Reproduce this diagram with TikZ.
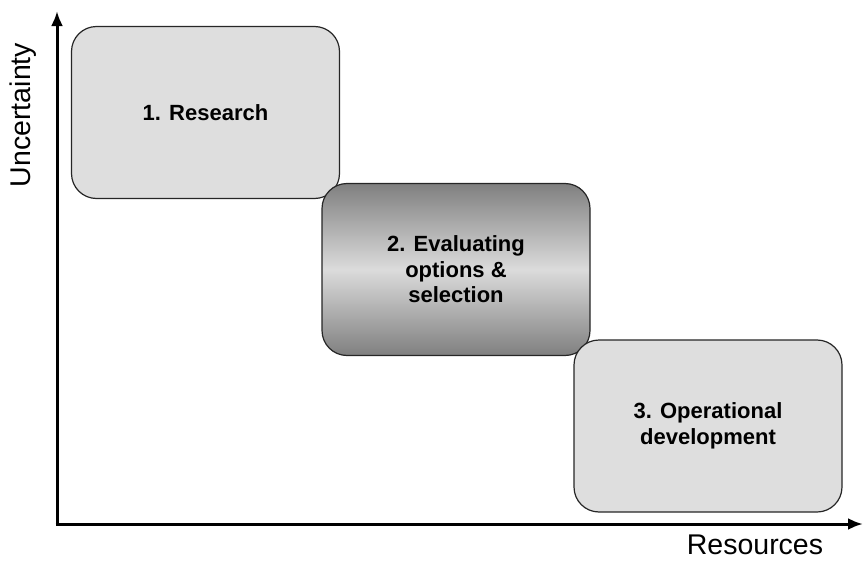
\documentclass[tikz,border=0pt]{standalone}
\usepackage{fontspec}
\setmainfont{Liberation Sans}
\usetikzlibrary{arrows.meta}
\begin{document}
\begin{tikzpicture}[x=1pt, y=-1pt,
    phase/.style={draw=black!85, line width=1.2pt, rounded corners=25pt, fill=black!13,
      minimum width=268pt, minimum height=172pt, align=center,
      font=\bfseries\fontsize{22}{25.5}\selectfont, inner sep=0pt},
    axis/.style={line width=3pt, -{Latex[length=15pt, width=12pt]}},
    axislabel/.style={font=\fontsize{28.5}{32}\selectfont, inner sep=0pt}]
    \useasboundingbox (0,0) rectangle (863,562);
    \coordinate (origin) at (57,524);
    \coordinate (ytip) at (57,11);
    \coordinate (xtip) at (863,524);
    \draw[axis] ([yshift=1.5pt]origin) -- (ytip);
    \draw[axis] ([xshift=-1.5pt]origin) -- (xtip);
    \node[axislabel, rotate=90] (unc) at (23,115) {Uncertainty};
    \node[axislabel] (res) at (755,545) {Resources};
    \node[phase] (p1) at (205.5,112.5) {1. Research};
    \node[phase, fill=none, top color=black!50, bottom color=black!50, middle color=black!14]
      (p2) at (456,269.5) {2. Evaluating\\options \&\\selection};
    \node[phase] (p3) at (708,426) {3. Operational\\development};
\end{tikzpicture}
\end{document}
